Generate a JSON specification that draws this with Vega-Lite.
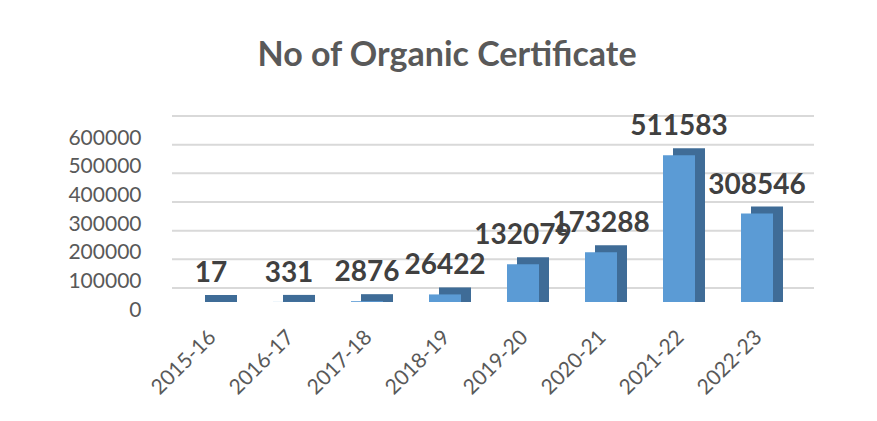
{
  "$schema": "https://vega.github.io/schema/vega-lite/v6.json",
  "autosize": "none",
  "width": 624,
  "height": 172,
  "padding": {"left": 172, "top": 130, "right": 81, "bottom": 119},
  "background": "white",
  "title": {
    "text": "No of Organic Certificate",
    "font": "Lato",
    "fontSize": 34,
    "fontWeight": "bold",
    "color": "#595959",
    "anchor": "middle",
    "frame": "group",
    "dx": -37,
    "offset": 40
  },
  "datasets": {
    "bars": [
      {"year": "2015-16", "value": 17},
      {"year": "2016-17", "value": 331},
      {"year": "2017-18", "value": 2876},
      {"year": "2018-19", "value": 26422},
      {"year": "2019-20", "value": 132079},
      {"year": "2020-21", "value": 173288},
      {"year": "2021-22", "value": 511583},
      {"year": "2022-23", "value": 308546}
    ],
    "grid": [
      {"v": 0}, {"v": 100000}, {"v": 200000}, {"v": 300000},
      {"v": 400000}, {"v": 500000}, {"v": 600000}
    ]
  },
  "config": {
    "view": {"stroke": null},
    "font": "Lato",
    "axisY": {
      "title": null, "values": [0, 100000, 200000, 300000, 400000, 500000, 600000],
      "grid": false, "ticks": false, "domain": false, "labelFont": "Lato", "labelFontSize": 21,
      "labelColor": "#595959", "labelPadding": 31, "labelOffset": 8, "format": "d",
      "labelOverlap": false, "labelFlush": false, "tickCount": 7
    }
  },
  "layer": [
    {
      "data": {"name": "grid"},
      "mark": {"type": "rule", "color": "#D9D9D9", "strokeWidth": 2, "xOffset": 18, "x2Offset": 18, "yOffset": -14},
      "encoding": {
        "y": {"field": "v", "type": "quantitative", "scale": {"domain": [0, 600000], "nice": false},
          "axis": {"values": [0, 100000, 200000, 300000, 400000, 500000, 600000], "labelOverlap": false, "tickCount": 7, "title": null}
        }
      }
    },
    {
      "data": {"name": "bars"},
      "layer": [
        {
          "mark": {"type": "bar", "width": 32, "color": "#3F6C97", "xOffset": 10, "yOffset": -7, "y2Offset": 0},
          "encoding": {
            "x": {"field": "year", "type": "nominal", "sort": null, "scale": {"paddingInner": 0, "paddingOuter": 0},
              "axis": {
                "title": null, "labelAngle": -45, "labelFont": "Lato", "labelFontSize": 21,
                "labelColor": "#595959", "ticks": false, "domain": false, "labelPadding": 24, "labelOffset": -6
              }
            },
            "y": {"field": "value", "type": "quantitative",
              "axis": {"values": [0, 100000, 200000, 300000, 400000, 500000, 600000], "labelOverlap": false, "tickCount": 7, "title": null}
            },
            "y2": {"datum": 0}
          }
        },
        {
          "mark": {"type": "bar", "width": 32, "color": "#5B9BD5"},
          "encoding": {
            "x": {"field": "year", "type": "nominal", "sort": null},
            "y": {"field": "value", "type": "quantitative"}
          }
        },
        {
          "mark": {"type": "text", "font": "Lato", "fontSize": 28, "fontWeight": "bold", "color": "#404040", "baseline": "alphabetic", "dy": -20},
          "encoding": {
            "x": {"field": "year", "type": "nominal", "sort": null},
            "y": {"field": "value", "type": "quantitative"},
            "text": {"field": "value", "type": "quantitative", "format": "d"}
          }
        }
      ]
    }
  ]
}
